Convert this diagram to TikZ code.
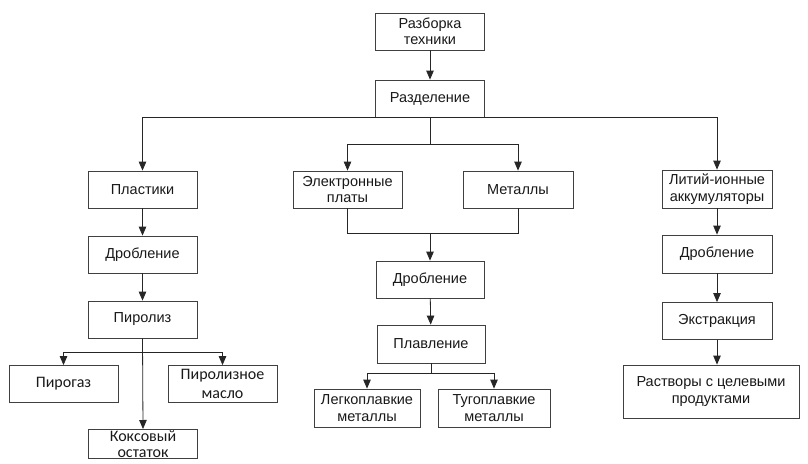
\documentclass[tikz,border=0pt]{standalone}
\usepackage{fontspec}
\setmainfont{Liberation Sans}
\newfontfamily\calfont{Carlito}
\usepackage{tikz}
\usetikzlibrary{arrows.meta, positioning, calc}

\begin{document}
\begin{tikzpicture}[x=1pt, y=-1pt,
  >={Triangle[length=9pt, width=7.5pt]},
  box/.style={draw=black!75, line width=0.8pt, fill=white, inner sep=0pt, minimum width=109pt, minimum height=37pt, align=center, font=\fontsize{14.5}{16.5}\selectfont, text=black!90},
  cbox/.style={box, font=\calfont\fontsize{16}{19}\selectfont},
  link/.style={draw=black!85, line width=0.8pt}]
\useasboundingbox (0,0) rectangle (808,463);
\clip (0,0) rectangle (808,463);

\node[box] (razb) at (430,31.5) {Разборка\\техники};
\node[box] (razd) at (430,98.5) {Разделение};

\node[box] (plast) at (142.5,189.5) {Пластики};
\node[box] (drobA) at (142.5,254.5) {Дробление};
\node[box] (piro) at (142.5,319.5) {Пиролиз};
\node[cbox] (gaz) at (63.5,384) {Пирогаз};
\node[cbox] (maslo) at (222.5,384) {Пиролизное\\масло};
\node[cbox, minimum height=0pt, inner ysep=1.5pt, anchor=north, font=\calfont\fontsize{16}{15.5}\selectfont] (koks) at (143,429) {Коксовый\\остаток};

\node[box] (plata) at (347.5,189.5) {Электронные\\платы};
\node[box, minimum width=110pt] (metal) at (518,189.5) {Металлы};
\node[box, minimum width=108pt] (drobB) at (430,279.5) {Дробление};
\node[box, minimum width=108pt, minimum height=38pt] (plav) at (431,344) {Плавление};
\node[box, minimum width=106pt, minimum height=38pt] (legk) at (367,408) {Легкоплавкие\\металлы};
\node[box, minimum width=112pt, minimum height=38pt] (tugo) at (494,408) {Тугоплавкие\\металлы};

\node[box, minimum width=110pt, minimum height=38pt] (akk) at (717,189) {Литий-ионные\\аккумуляторы};
\node[box, minimum width=110pt, minimum height=38pt] (drobC) at (717,254) {Дробление};
\node[box, minimum width=110pt] (ekstr) at (717,321) {Экстракция};
\node[box, minimum width=176pt, minimum height=53pt] (rastv) at (711,391.5) {Растворы с целевыми\\продуктами};

\coordinate (splitA) at (430,144);
\coordinate (joinB) at (430,233);
\coordinate (splitP) at (143,352);
\coordinate (splitM) at (431,373);

\draw[link, ->] (razb) -- (razd);
\draw[link, ->] (razd.south) -| (plast.north);
\draw[link, ->] (razd.south) -| (akk.north);
\draw[link] (razd.south) -- (splitA);
\draw[link, ->] (splitA) -| (plata.north);
\draw[link, ->] (splitA) -| (metal.north);

\draw[link, ->] (plast) -- (drobA);
\draw[link, ->] (drobA) -- (piro);
\draw[link, ->] (piro.south) -- (koks.north);
\draw[link, ->] (splitP) -| (gaz.north);
\draw[link, ->] (splitP) -| (maslo.north);

\draw[link] (plata.south) |- (joinB);
\draw[link] (metal.south) |- (joinB);
\draw[link, ->] (joinB) -- (drobB);
\draw[link, ->] (drobB) -- (plav);
\draw[link] (plav.south) -- (splitM);
\draw[link, ->] (splitM) -| (legk.north);
\draw[link, ->] (splitM) -| (tugo.north);

\draw[link, ->] (akk) -- (drobC);
\draw[link, ->] (drobC) -- (ekstr);
\draw[link, ->] (ekstr.south) -- (ekstr.south |- rastv.north);
\end{tikzpicture}
\end{document}
